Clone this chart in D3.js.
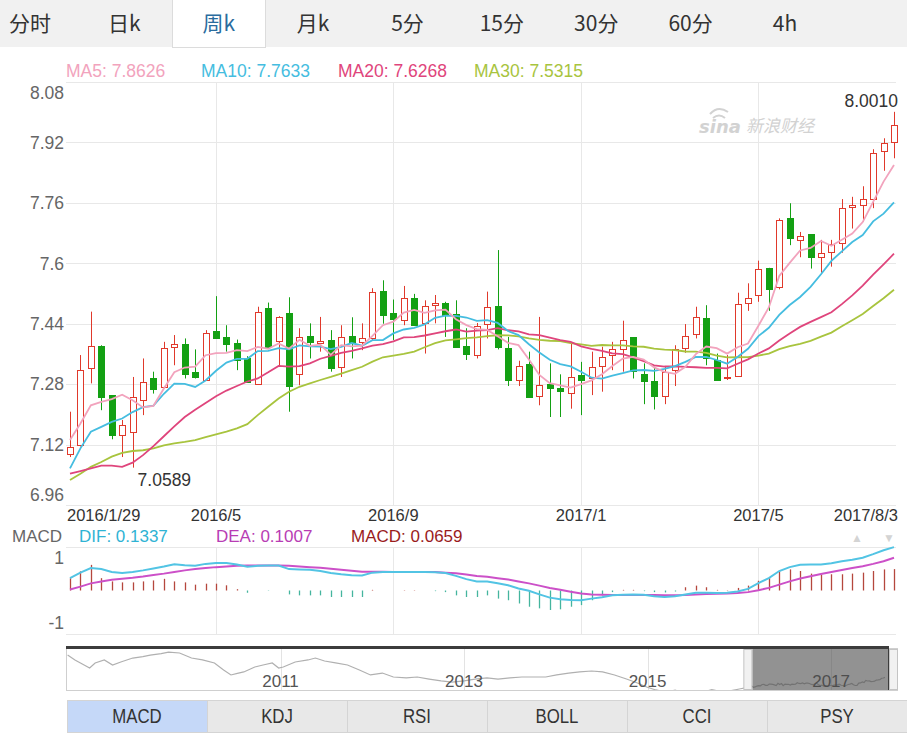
<!DOCTYPE html>
<html><head><meta charset="utf-8">
<script src="https://cdn.jsdelivr.net/npm/d3@7"></script>
<style>
body{margin:0;background:#fff;overflow:hidden}
svg{display:block;font-family:"Liberation Sans",Arial,sans-serif}
</style></head><body><svg id="c" width="907" height="737"></svg>
<script>
// ---------------- DATA ----------------
const tabLabels = ["分时","日k","周k","月k","5分","15分","30分","60分","4h"];
const activeTab = "周k";
const indicatorTabs = ["MACD","KDJ","RSI","BOLL","CCI","PSY"];

const dates = ["2016/1/29","2016/2/5","2016/2/12","2016/2/19","2016/2/26","2016/3/4","2016/3/11","2016/3/18","2016/3/25","2016/4/1",
"2016/4/8","2016/4/15","2016/4/22","2016/4/29","2016/5/6","2016/5/13","2016/5/20","2016/5/27","2016/6/3","2016/6/10",
"2016/6/17","2016/6/24","2016/7/1","2016/7/8","2016/7/15","2016/7/22","2016/7/29","2016/8/5","2016/8/12","2016/8/19",
"2016/8/26","2016/9/2","2016/9/9","2016/9/16","2016/9/23","2016/9/30","2016/10/7","2016/10/14","2016/10/21","2016/10/28",
"2016/11/4","2016/11/11","2016/11/18","2016/11/25","2016/12/2","2016/12/9","2016/12/16","2016/12/23","2016/12/30","2017/1/6",
"2017/1/13","2017/1/20","2017/1/27","2017/2/3","2017/2/10","2017/2/17","2017/2/24","2017/3/3","2017/3/10","2017/3/17",
"2017/3/24","2017/3/31","2017/4/7","2017/4/14","2017/4/21","2017/4/28","2017/5/5","2017/5/12","2017/5/19","2017/5/26",
"2017/6/2","2017/6/9","2017/6/16","2017/6/23","2017/6/30","2017/7/7","2017/7/14","2017/7/21","2017/7/28","2017/8/3"];

const open = [7.096,7.120,7.322,7.382,7.251,7.145,7.154,7.239,7.295,7.273,
7.379,7.385,7.313,7.292,7.421,7.404,7.388,7.348,7.280,7.481,
7.395,7.469,7.308,7.408,7.389,7.397,7.326,7.408,7.392,7.401,
7.527,7.469,7.449,7.507,7.442,7.489,7.495,7.465,7.381,7.357,
7.439,7.487,7.377,7.292,7.333,7.248,7.280,7.270,7.257,7.304,
7.295,7.328,7.357,7.372,7.404,7.308,7.289,7.248,7.317,7.377,
7.413,7.456,7.345,7.297,7.301,7.496,7.516,7.588,7.538,7.719,
7.661,7.677,7.617,7.630,7.653,7.750,7.754,7.769,7.898,7.922];
const high = [7.207,7.357,7.472,7.383,7.251,7.185,7.299,7.348,7.313,7.392,
7.410,7.401,7.372,7.423,7.513,7.436,7.398,7.354,7.485,7.496,
7.460,7.510,7.428,7.441,7.458,7.423,7.436,7.457,7.441,7.534,
7.555,7.504,7.540,7.519,7.502,7.516,7.498,7.502,7.428,7.442,
7.525,7.635,7.405,7.342,7.366,7.458,7.335,7.306,7.388,7.339,
7.366,7.379,7.392,7.448,7.404,7.335,7.326,7.326,7.383,7.439,
7.485,7.489,7.361,7.357,7.522,7.547,7.607,7.588,7.719,7.759,
7.683,7.677,7.662,7.662,7.770,7.776,7.804,7.902,7.931,8.001];
const low = [7.087,7.115,7.282,7.211,7.134,7.087,7.0589,7.198,7.255,7.269,
7.330,7.295,7.295,7.291,7.403,7.366,7.317,7.286,7.280,7.379,
7.328,7.207,7.277,7.348,7.366,7.313,7.299,7.348,7.370,7.397,
7.440,7.397,7.436,7.436,7.361,7.441,7.405,7.379,7.344,7.348,
7.401,7.372,7.275,7.275,7.245,7.224,7.193,7.193,7.215,7.198,
7.251,7.260,7.317,7.313,7.295,7.227,7.213,7.227,7.275,7.363,
7.401,7.330,7.292,7.291,7.301,7.474,7.498,7.474,7.531,7.648,
7.616,7.586,7.575,7.591,7.628,7.692,7.710,7.746,7.845,7.878];
const close = [7.114,7.317,7.381,7.245,7.145,7.171,7.245,7.286,7.266,7.375,
7.385,7.308,7.299,7.416,7.403,7.387,7.345,7.286,7.472,7.379,
7.457,7.276,7.404,7.392,7.394,7.322,7.404,7.388,7.401,7.525,
7.462,7.452,7.507,7.436,7.487,7.494,7.463,7.379,7.359,7.434,
7.483,7.379,7.292,7.328,7.245,7.277,7.271,7.262,7.299,7.292,
7.326,7.352,7.372,7.397,7.315,7.289,7.248,7.313,7.372,7.407,
7.458,7.348,7.292,7.299,7.492,7.507,7.584,7.533,7.715,7.666,
7.672,7.617,7.626,7.651,7.746,7.754,7.769,7.893,7.919,7.965];

// moving-average values for the first weeks (before a full window exists)
const ma5Head  = [7.132,7.176,7.224,7.233];
const ma10Head = [7.057,7.110,7.154,7.167,7.180,7.189,7.206,7.219,7.223];
const ma20Head = [7.043,7.050,7.057,7.064,7.064,7.061,7.072,7.092,7.116,7.142,7.168,7.193,7.212,7.230,7.248,7.263,7.275,7.287,7.295];
const ma30Head = [7.026,7.043,7.061,7.074,7.088,7.098,7.103,7.105,7.110,7.118,7.123,7.127,7.132,7.140,7.147,7.154,7.163,7.174,7.198,7.220,7.242,7.260,7.273,7.282,7.291,7.299,7.308,7.317,7.326];
const maNames  = ["MA5","MA10","MA20","MA30"];
const maLabels = ["7.8626","7.7633","7.6268","7.5315"];

const priceTicks = [6.96,7.12,7.28,7.44,7.6,7.76,7.92,8.08];
const priceTickLabels = ["6.96","7.12","7.28","7.44","7.6","7.76","7.92","8.08"];
const xTickDates  = ["2016/1/29","2016/5/6","2016/9/2","2017/1/6","2017/5/5","2017/8/3"];
const xTickLabels = ["2016/1/29","2016/5","2016/9","2017/1","2017/5","2017/8/3"];
const maxLabel = "8.0010", minLabel = "7.0589";

// MACD (DIF, DEA, bar)
const dif = [0.038,0.055,0.069,0.066,0.057,0.054,0.057,0.062,0.068,0.074,
0.081,0.078,0.076,0.082,0.085,0.085,0.080,0.073,0.076,0.077,
0.077,0.066,0.065,0.064,0.060,0.054,0.050,0.047,0.046,0.055,
0.057,0.057,0.057,0.057,0.057,0.056,0.054,0.045,0.035,0.028,
0.028,0.022,0.016,0.006,-0.001,-0.012,-0.022,-0.027,-0.029,-0.030,
-0.025,-0.021,-0.015,-0.013,-0.012,-0.013,-0.018,-0.020,-0.018,-0.012,
-0.007,-0.007,-0.008,-0.007,-0.003,0.005,0.023,0.038,0.060,0.072,
0.079,0.080,0.080,0.084,0.090,0.095,0.101,0.112,0.124,0.1337];
const dea = [0.003,0.012,0.022,0.028,0.033,0.036,0.039,0.043,0.048,0.052,
0.057,0.062,0.066,0.069,0.072,0.074,0.076,0.077,0.077,0.077,
0.077,0.076,0.074,0.072,0.070,0.067,0.064,0.061,0.058,0.058,
0.058,0.057,0.057,0.057,0.057,0.057,0.055,0.053,0.049,0.045,
0.042,0.038,0.034,0.028,0.022,0.015,0.008,0.002,-0.004,-0.009,
-0.012,-0.013,-0.014,-0.014,-0.014,-0.014,-0.014,-0.015,-0.015,-0.014,
-0.012,-0.011,-0.010,-0.009,-0.008,-0.005,0.001,0.008,0.018,0.028,
0.037,0.044,0.051,0.057,0.063,0.069,0.075,0.082,0.090,0.1007];
const macdBar = [0.038,0.059,0.079,0.038,0.028,0.025,0.025,0.028,0.031,0.036,
0.028,0.025,0.018,0.021,0.021,0.016,0.004,-0.007,0,-0.001,
0,-0.012,-0.015,-0.015,-0.015,-0.020,-0.020,-0.020,-0.020,0.002,
0,0,0.001,0.001,0,-0.002,-0.005,-0.015,-0.020,-0.020,
-0.015,-0.025,-0.030,-0.040,-0.050,-0.055,-0.060,-0.058,-0.050,-0.045,
-0.030,-0.015,-0.005,0.002,0.002,-0.002,-0.005,-0.006,-0.003,0.010,
0.015,0.010,0.002,0.001,0.008,0.015,0.030,0.040,0.060,0.065,
0.060,0.052,0.048,0.050,0.050,0.052,0.055,0.060,0.065,0.0659];
const macdTicks = [0.1,-0.1];
const macdTickLabels = ["1","-1"];
const macdLegend = [["MACD",""],["DIF",": 0.1337"],["DEA",": 0.1007"],["MACD",": 0.0659"]];

// navigator: long-history line (fractional year, value) before 2016
const navYears = [2008.68,2008.76,2008.86,2008.92,2008.98,2009.08,2009.17,2009.26,2009.39,2009.5,2009.58,2009.7,2009.78,2009.9,
2010.03,2010.15,2010.28,2010.38,2010.46,2010.53,2010.6,2010.72,2010.81,2010.91,2010.98,2011.03,2011.16,2011.3,2011.38,2011.48,
2011.6,2011.73,2011.86,2011.98,2012.11,2012.23,2012.37,2012.49,2012.62,2012.75,2012.87,2013.0,2013.12,2013.25,2013.37,2013.5,
2013.63,2013.75,2013.89,2014.01,2014.14,2014.26,2014.39,2014.51,2014.64,2014.77,2014.89,2014.99,2015.09,2015.2,2015.3,2015.4,
2015.5,2015.6,2015.7,2015.8,2015.9,2016.0];
const navValues = [9.83,9.42,9.0,8.75,9.17,9.42,9.0,9.25,9.58,9.7,9.83,9.95,10.08,10.0,
9.58,9.42,9.17,8.58,8.17,8.3,8.42,8.83,9.0,9.17,8.75,8.83,9.25,9.42,9.58,9.33,
9.17,9.0,8.58,8.17,8.33,8.0,7.92,8.0,7.83,7.67,7.58,7.67,7.83,7.92,7.83,7.92,
8.0,8.0,8.0,8.17,8.33,8.42,8.5,8.42,8.17,7.83,7.5,7.17,6.92,6.75,6.9,6.7,
6.85,6.72,6.95,6.78,6.85,7.0];
const navYearLabels = [2011,2013,2015,2017];

// ---------------- DRAW ----------------
const svg = d3.select("#c");
const RED = "#e0392b", GREEN = "#13a013";
const maColors = ["#f2a3bd","#45bde0","#df457c","#a8c43e"];

// top tabs
svg.append("rect").attr("x",0).attr("y",0).attr("width",907).attr("height",47).attr("fill","#f1f1f1");
const tabX = d3.scalePoint().domain(tabLabels).range([30,785]);
svg.append("rect").attr("x",172.5).attr("y",-1).attr("width",93).attr("height",48.5)
  .attr("fill","#fff").attr("stroke","#dcdcdc");
svg.selectAll("text.tab").data(tabLabels).join("text").attr("class","tab")
  .attr("x",d=>tabX(d)).attr("y",31).attr("text-anchor","middle")
  .attr("font-family","'Noto Sans CJK SC',sans-serif").attr("font-size",21)
  .attr("fill",d=>d===activeTab?"#2a6c9e":"#333").text(d=>d);

// price scales
const x = d3.scalePoint().domain(dates).range([70,894]);
const y = d3.scaleLinear().domain([6.96,8.08]).range([505,82]);
const px = d => Math.round(x(d)) + 0.5;

// grid
const g = svg.append("g");
g.selectAll("line.h").data(priceTicks).join("line")
  .attr("x1",66).attr("x2",896).attr("y1",d=>Math.round(y(d))+0.5).attr("y2",d=>Math.round(y(d))+0.5)
  .attr("stroke","#e8e8e8");
const midTicks = xTickDates.slice(1,-1);
g.selectAll("line.v").data(midTicks).join("line")
  .attr("x1",px).attr("x2",px).attr("y1",82).attr("y2",505).attr("stroke","#e8e8e8");

// y labels
g.selectAll("text.yl").data(priceTicks).join("text")
  .attr("x",64).attr("y",d=>Math.max(93,Math.min(495,y(d)))).attr("dy","0.36em")
  .attr("text-anchor","end").attr("font-size",17.5).attr("fill","#666")
  .text((d,i)=>priceTickLabels[i]);

// x labels
g.selectAll("text.xl").data(xTickDates).join("text")
  .attr("x",(d,i)=> i===0 ? 67 : i===xTickDates.length-1 ? 898 : x(d))
  .attr("y",521).attr("font-size",16.5).attr("fill","#333")
  .attr("text-anchor",(d,i)=> i===0?"start": i===xTickDates.length-1?"end":"middle")
  .text((d,i)=>xTickLabels[i]);

// watermark
const wm = svg.append("g").attr("fill","#d2d2d2");
wm.append("text").attr("x",699).attr("y",133).attr("font-size",18).attr("font-weight","bold")
  .attr("font-style","italic").attr("font-family","'DejaVu Sans',sans-serif").text("sina");
wm.append("text").attr("x",746).attr("y",132).attr("font-size",17).attr("font-style","italic")
  .attr("font-family","'Noto Sans CJK SC',sans-serif").text("新浪财经");
wm.append("path").attr("d","M710,114 q8,-9 18,-2 M713,118 q6,-5 12,0").attr("fill","none").attr("stroke","#d2d2d2").attr("stroke-width",2);

// candles
const cg = svg.append("g");
dates.forEach((d,i)=>{
  const o=open[i], c=close[i], up = c>=o;
  const col = up?RED:GREEN;
  const xc = px(d);
  const top = Math.round(y(Math.max(o,c)))+0.5, bot = Math.round(y(Math.min(o,c)))+0.5;
  cg.append("line").attr("x1",xc).attr("x2",xc).attr("y1",y(high[i])).attr("y2",top).attr("stroke",col);
  cg.append("line").attr("x1",xc).attr("x2",xc).attr("y1",bot).attr("y2",y(low[i])).attr("stroke",col);
  cg.append("rect").attr("x",xc-3).attr("y",top).attr("width",6).attr("height",Math.max(1,bot-top))
    .attr("fill",up?"#fff":col).attr("stroke",col);
});

// moving averages
function movingAvg(n, head){
  return close.map((c,i)=> i<n-1 ? head[i] : d3.mean(close.slice(i-n+1,i+1)));
}
const mas = [movingAvg(5,ma5Head),movingAvg(10,ma10Head),movingAvg(20,ma20Head),movingAvg(30,ma30Head)];
const line = d3.line().x((v,i)=>x(dates[i])).y(v=>y(v)).curve(d3.curveLinear);
[3,2,1,0].forEach(k=>{
  svg.append("path").attr("d",line(mas[k])).attr("fill","none").attr("stroke",maColors[k]).attr("stroke-width",1.8);
});

// MA legend
const legX = [66,201,338,474];
svg.selectAll("text.ma").data(maNames).join("text")
  .attr("x",(d,i)=>legX[i]).attr("y",77).attr("font-size",17.5)
  .attr("fill",(d,i)=>maColors[i]).text((d,i)=>d+": "+maLabels[i]);

// max/min labels
const iMax = d3.maxIndex(high), iMin = d3.minIndex(low);
svg.append("text").attr("x",898).attr("y",y(high[iMax])-5).attr("text-anchor","end")
  .attr("font-size",17.5).attr("fill","#333").text(maxLabel);
svg.append("text").attr("x",x(dates[iMin])+5).attr("y",y(low[iMin])+18)
  .attr("font-size",17.5).attr("fill","#333").text(minLabel);

// ---------------- MACD panel ----------------
const ym = d3.scaleLinear().domain([-0.134,0.134]).range([634,547]);
const mg = svg.append("g");
[547,634].forEach(v=>mg.append("line").attr("x1",66).attr("x2",896).attr("y1",v+0.5).attr("y2",v+0.5).attr("stroke","#e8e8e8"));
mg.selectAll("line.v").data(midTicks).join("line")
  .attr("x1",px).attr("x2",px).attr("y1",547).attr("y2",634).attr("stroke","#e8e8e8");
mg.selectAll("text.ml").data(macdTicks).join("text")
  .attr("x",64).attr("y",d=>ym(d)).attr("dy","0.36em").attr("text-anchor","end")
  .attr("font-size",17.5).attr("fill","#666").text((d,i)=>macdTickLabels[i]);
mg.selectAll("line.bar").data(macdBar).join("line")
  .attr("x1",(v,i)=>px(dates[i])).attr("x2",(v,i)=>px(dates[i]))
  .attr("y1",ym(0)).attr("y2",v=>ym(v))
  .attr("stroke",v=>v>=0?"#b5473d":"#45b59e").attr("stroke-width",1.3);
const ml = d3.line().x((v,i)=>x(dates[i])).y(v=>ym(v));
mg.append("path").attr("d",ml(dea)).attr("fill","none").attr("stroke","#cc50c8").attr("stroke-width",2);
mg.append("path").attr("d",ml(dif)).attr("fill","none").attr("stroke","#52c4e4").attr("stroke-width",2);

// MACD legend
const mlx = [12,79,216,351], mlc = ["#666","#2fb3d4","#b83db4","#9a1c1c"];
macdLegend.forEach((d,i)=>{
  svg.append("text").attr("x",mlx[i]).attr("y",542).attr("font-size",17).attr("fill",mlc[i]).text(d[0]+d[1]);
});
svg.append("text").attr("x",857).attr("y",542).attr("text-anchor","middle").attr("font-size",12).attr("fill","#d4d4d4").text("▲");
svg.append("text").attr("x",889).attr("y",542).attr("text-anchor","middle").attr("font-size",12).attr("fill","#d4d4d4").text("▼");

// ---------------- navigator ----------------
const parse = d3.timeParse("%Y/%m/%d");
const toYear = s => { const dt=parse(s); const y0=new Date(dt.getFullYear(),0,1), y1=new Date(dt.getFullYear()+1,0,1); return dt.getFullYear()+(dt-y0)/(y1-y0); };
const nx = d3.scaleLinear().domain([2011,2017]).range([280.5,831.1]);
const ny = d3.scaleLinear().domain([7,10]).range([689,653]);
const ng = svg.append("g");
ng.append("rect").attr("x",66.5).attr("y",648.5).attr("width",831).attr("height",42).attr("fill","#fff").attr("stroke","#cfcfcf");
ng.selectAll("line.ny").data(navYearLabels).join("line")
  .attr("x1",d=>Math.round(nx(d))+0.5).attr("x2",d=>Math.round(nx(d))+0.5).attr("y1",649).attr("y2",690).attr("stroke","#e3e3e3");
ng.append("defs").append("clipPath").attr("id","navclip").append("rect").attr("x",67).attr("y",649).attr("width",830).attr("height",41);
const navPts = navYears.map((yr,i)=>[yr,navValues[i]]).concat(dates.map((d,i)=>[toYear(d),close[i]]));
ng.append("path").attr("clip-path","url(#navclip)")
  .attr("d",d3.line().x(p=>nx(p[0])).y(p=>ny(p[1]))(navPts))
  .attr("fill","none").attr("stroke","#b0b0b0").attr("stroke-width",1.2);
ng.selectAll("text.ny").data(navYearLabels).join("text")
  .attr("x",d=>nx(d)).attr("y",687).attr("text-anchor","middle").attr("font-size",17).attr("fill","#555").text(d=>d);
const selL = nx(toYear(dates[0]))+6, selR = 888;
ng.append("rect").attr("x",selL).attr("y",649).attr("width",selR-selL).attr("height",41).attr("fill","#4a4a4a").attr("opacity",0.6);
ng.append("rect").attr("x",66).attr("y",646).attr("width",822).attr("height",3).attr("fill","#3c3c3c");
ng.append("line").attr("x1",selR+0.5).attr("x2",selR+0.5).attr("y1",646).attr("y2",690).attr("stroke","#3c3c3c");
[selL-9, selR+1].forEach(hx=>{
  ng.append("rect").attr("x",hx+0.5).attr("y",649.5).attr("width",8).attr("height",40).attr("fill","#f1f1f1").attr("stroke","#c4c4c4");
});

// ---------------- indicator tabs ----------------
const tb = d3.scaleBand().domain(indicatorTabs).range([67,907]);
svg.selectAll("rect.it").data(indicatorTabs).join("rect")
  .attr("x",d=>tb(d)+0.5).attr("y",700.5).attr("width",tb.bandwidth()).attr("height",32)
  .attr("fill",(d,i)=>i===0?"#c5d8f8":"#e8e8e8").attr("stroke","#d4d4d4");
svg.selectAll("text.it").data(indicatorTabs).join("text")
  .attr("transform",d=>`translate(${tb(d)+tb.bandwidth()/2},723) scale(0.8,1)`)
  .attr("text-anchor","middle").attr("font-size",21)
  .attr("fill","#333").text(d=>d);
</script></body></html>
